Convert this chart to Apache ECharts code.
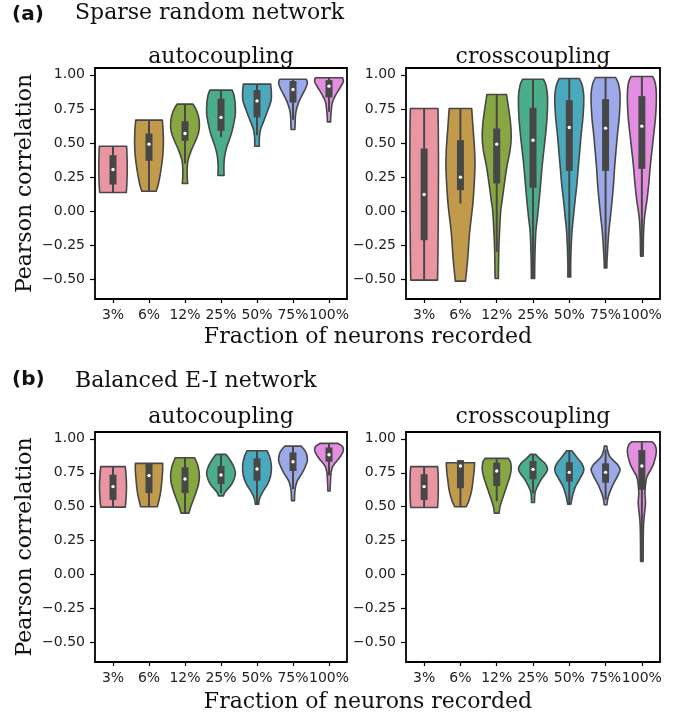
<!DOCTYPE html>
<html><head><meta charset="utf-8">
<script src="https://cdn.jsdelivr.net/npm/echarts@6/dist/echarts.min.js"></script>
<style>html,body{margin:0;padding:0;background:#fff}#c{width:685px;height:719px}</style>
</head><body><div id="c"></div>
<script>
const categories = ['3%','6%','12%','25%','50%','75%','100%'];
const yTicks = [-0.5,-0.25,0,0.25,0.5,0.75,1.0];
const colors = ['#ea96a2','#c29a4b','#87a742','#4aae8b','#4ba9bd','#9caae9','#e38ee0'];

// Violin outlines: [value, half-width as fraction of category band], bottom to top
const sparseAutoProfiles = [
  [[0.137,0.37],[0.2,0.385],[0.3,0.395],[0.4,0.39],[0.477,0.38]],
  [[0.147,0.2],[0.2,0.26],[0.3,0.33],[0.4,0.38],[0.5,0.4],[0.6,0.39],[0.668,0.37]],
  [[0.203,0.075],[0.26,0.06],[0.33,0.065],[0.38,0.09],[0.45,0.18],[0.52,0.3],[0.58,0.38],[0.64,0.4],[0.70,0.37],[0.75,0.3],[0.785,0.22]],
  [[0.262,0.085],[0.33,0.08],[0.40,0.1],[0.47,0.16],[0.53,0.24],[0.58,0.3],[0.65,0.36],[0.72,0.4],[0.80,0.39],[0.85,0.36],[0.888,0.31]],
  [[0.477,0.065],[0.54,0.065],[0.6,0.1],[0.67,0.2],[0.74,0.3],[0.81,0.39],[0.87,0.4],[0.932,0.38]],
  [[0.599,0.05],[0.64,0.06],[0.69,0.065],[0.74,0.09],[0.80,0.16],[0.85,0.25],[0.90,0.35],[0.94,0.4],[0.968,0.37]],
  [[0.655,0.045],[0.70,0.05],[0.74,0.065],[0.78,0.08],[0.81,0.11],[0.85,0.18],[0.88,0.25],[0.92,0.34],[0.95,0.4],[0.978,0.38]]
];
// Inner box: [whisker low, q1, median, q3, whisker high]
const sparseAutoBoxes = [
  [0.137,0.196,0.306,0.411,0.477],
  [0.147,0.37,0.492,0.57,0.668],
  [0.35,0.516,0.57,0.66,0.785],
  [0.543,0.59,0.688,0.826,0.888],
  [0.558,0.688,0.809,0.888,0.932],
  [0.67,0.797,0.892,0.954,0.968],
  [0.73,0.834,0.917,0.961,0.978]
];

const sparseCrossProfiles = [
  [[-0.505,0.37],[-0.3,0.38],[0,0.39],[0.3,0.395],[0.6,0.39],[0.753,0.38]],
  [[-0.512,0.14],[-0.35,0.2],[-0.163,0.25],[0,0.32],[0.08,0.35],[0.2,0.38],[0.33,0.4],[0.45,0.39],[0.6,0.35],[0.753,0.31]],
  [[-0.493,0.045],[-0.31,0.055],[-0.163,0.075],[0,0.11],[0.08,0.15],[0.2,0.21],[0.326,0.28],[0.45,0.37],[0.545,0.4],[0.65,0.38],[0.75,0.33],[0.856,0.27]],
  [[-0.493,0.045],[-0.36,0.05],[-0.163,0.075],[-0.05,0.12],[0.08,0.17],[0.2,0.21],[0.326,0.25],[0.45,0.3],[0.57,0.35],[0.7,0.39],[0.84,0.4],[0.92,0.36],[0.968,0.29]],
  [[-0.481,0.04],[-0.36,0.04],[-0.163,0.07],[-0.05,0.11],[0.08,0.16],[0.2,0.21],[0.326,0.25],[0.45,0.29],[0.57,0.33],[0.7,0.38],[0.84,0.4],[0.92,0.36],[0.973,0.28]],
  [[-0.415,0.035],[-0.36,0.04],[-0.163,0.085],[-0.05,0.13],[0.08,0.18],[0.2,0.22],[0.326,0.25],[0.45,0.29],[0.57,0.33],[0.7,0.38],[0.85,0.4],[0.93,0.36],[0.98,0.28]],
  [[-0.329,0.035],[-0.25,0.04],[-0.163,0.046],[-0.04,0.075],[0.08,0.14],[0.2,0.19],[0.326,0.23],[0.45,0.28],[0.57,0.33],[0.7,0.38],[0.85,0.4],[0.94,0.37],[0.988,0.3]]
];
const sparseCrossBoxes = [
  [-0.505,-0.212,0.123,0.46,0.753],
  [0.057,0.155,0.25,0.521,0.753],
  [-0.297,0.204,0.492,0.607,0.856],
  [-0.493,0.172,0.521,0.758,0.968],
  [-0.481,0.296,0.614,0.814,0.973],
  [-0.415,0.296,0.609,0.822,0.98],
  [-0.329,0.311,0.624,0.844,0.988]
];

const balancedAutoProfiles = [
  [[0.497,0.34],[0.55,0.36],[0.65,0.375],[0.74,0.36],[0.795,0.34]],
  [[0.50,0.23],[0.55,0.28],[0.62,0.33],[0.70,0.36],[0.77,0.38],[0.819,0.38]],
  [[0.453,0.11],[0.5,0.16],[0.55,0.23],[0.6,0.3],[0.66,0.37],[0.72,0.4],[0.79,0.37],[0.861,0.27]],
  [[0.58,0.065],[0.61,0.12],[0.66,0.28],[0.70,0.36],[0.746,0.4],[0.79,0.36],[0.84,0.26],[0.885,0.14]],
  [[0.519,0.05],[0.55,0.06],[0.60,0.14],[0.67,0.3],[0.73,0.38],[0.795,0.4],[0.86,0.36],[0.912,0.28]],
  [[0.545,0.04],[0.62,0.055],[0.685,0.11],[0.746,0.25],[0.80,0.35],[0.844,0.4],[0.90,0.36],[0.946,0.23]],
  [[0.616,0.03],[0.68,0.04],[0.746,0.055],[0.795,0.1],[0.84,0.23],[0.88,0.34],[0.917,0.4],[0.945,0.37],[0.966,0.25]]
];
const balancedAutoBoxes = [
  [0.497,0.55,0.648,0.736,0.795],
  [0.5,0.6,0.729,0.819,0.819],
  [0.453,0.6,0.704,0.79,0.861],
  [0.6,0.668,0.734,0.80,0.885],
  [0.519,0.692,0.778,0.856,0.912],
  [0.63,0.763,0.831,0.9,0.946],
  [0.73,0.831,0.883,0.936,0.966]
];

const balancedCrossProfiles = [
  [[0.494,0.37],[0.56,0.385],[0.65,0.39],[0.74,0.385],[0.795,0.37]],
  [[0.5,0.16],[0.55,0.24],[0.62,0.31],[0.70,0.35],[0.77,0.38],[0.824,0.39]],
  [[0.453,0.065],[0.5,0.09],[0.575,0.18],[0.67,0.3],[0.73,0.37],[0.78,0.4],[0.83,0.38],[0.856,0.32]],
  [[0.531,0.04],[0.6,0.055],[0.648,0.12],[0.71,0.25],[0.75,0.36],[0.78,0.4],[0.82,0.33],[0.85,0.2],[0.885,0.07]],
  [[0.519,0.045],[0.575,0.085],[0.648,0.17],[0.71,0.3],[0.75,0.38],[0.78,0.4],[0.82,0.34],[0.86,0.22],[0.912,0.07]],
  [[0.514,0.035],[0.575,0.075],[0.648,0.18],[0.71,0.3],[0.77,0.4],[0.81,0.33],[0.868,0.12],[0.92,0.05],[0.946,0.035]],
  [[0.098,0.035],[0.23,0.037],[0.355,0.045],[0.43,0.065],[0.526,0.1],[0.6,0.085],[0.66,0.1],[0.72,0.14],[0.77,0.24],[0.82,0.33],[0.905,0.4],[0.95,0.37],[0.978,0.28]]
];
const balancedCrossBoxes = [
  [0.494,0.55,0.648,0.739,0.795],
  [0.5,0.636,0.80,0.843,0.843],
  [0.54,0.653,0.763,0.824,0.856],
  [0.6,0.702,0.775,0.836,0.885],
  [0.519,0.685,0.753,0.827,0.912],
  [0.55,0.677,0.753,0.819,0.92],
  [0.098,0.624,0.80,0.917,0.978]
];

const panels = [
  {profiles: sparseAutoProfiles, boxes: sparseAutoBoxes},
  {profiles: sparseCrossProfiles, boxes: sparseCrossBoxes},
  {profiles: balancedAutoProfiles, boxes: balancedAutoBoxes},
  {profiles: balancedCrossProfiles, boxes: balancedCrossBoxes}
];

const gridPos = [
  {left: 95, top: 68, width: 252, height: 231},
  {left: 406, top: 68, width: 254, height: 231},
  {left: 95, top: 432, width: 252, height: 230},
  {left: 406, top: 432, width: 254, height: 230}
];

const EDGE = '#474747';
const sansFont = 'DejaVu Sans';

// Catmull-Rom spline through outline points (drawing only)
function splinePath(pts, moveFirst) {
  let d = moveFirst ? 'M' + pts[0][0] + ' ' + pts[0][1] : 'L' + pts[0][0] + ' ' + pts[0][1];
  for (let k = 0; k < pts.length - 1; k++) {
    const p0 = pts[Math.max(k - 1, 0)], p1 = pts[k], p2 = pts[k + 1], p3 = pts[Math.min(k + 2, pts.length - 1)];
    const c1x = p1[0] + (p2[0] - p0[0]) / 6, c1y = p1[1] + (p2[1] - p0[1]) / 6;
    const c2x = p2[0] - (p3[0] - p1[0]) / 6, c2y = p2[1] - (p3[1] - p1[1]) / 6;
    d += 'C' + c1x + ' ' + c1y + ' ' + c2x + ' ' + c2y + ' ' + p2[0] + ' ' + p2[1];
  }
  return d;
}

function makeRender(panel) {
  return function (params, api) {
    const i = params.dataIndex;
    const prof = panel.profiles[i];
    const bx = panel.boxes[i];
    const band = api.size([1, 0])[0];
    const cx = api.coord([i, 0])[0];
    const left = prof.map(p => [cx - p[1] * band, api.coord([i, p[0]])[1]]);
    const right = prof.slice().reverse().map(p => [cx + p[1] * band, api.coord([i, p[0]])[1]]);
    const d = splinePath(left, true) + splinePath(right, false) + 'Z';
    const yLo = api.coord([i, bx[0]])[1];
    const yQ1 = api.coord([i, bx[1]])[1];
    const yMed = api.coord([i, bx[2]])[1];
    const yQ3 = api.coord([i, bx[3]])[1];
    const yHi = api.coord([i, bx[4]])[1];
    return {
      type: 'group',
      children: [
        {type: 'path', shape: {pathData: d}, style: {fill: colors[i], stroke: EDGE, lineWidth: 1.6, lineJoin: 'round'}},
        {type: 'line', shape: {x1: cx, y1: yLo, x2: cx, y2: yHi}, style: {stroke: EDGE, lineWidth: 2}},
        {type: 'rect', shape: {x: cx - 3.5, y: yQ3, width: 7, height: yQ1 - yQ3}, style: {fill: EDGE}},
        {type: 'circle', shape: {cx: cx, cy: yMed, r: 1.7}, style: {fill: '#ffffff'}}
      ]
    };
  };
}

const fmt = v => (v < 0 ? '\u2212' : '') + Math.abs(v).toFixed(2);

const option = {
  animation: false,
  backgroundColor: '#ffffff',
  grid: gridPos.map(g => Object.assign({show: true, borderColor: '#000', borderWidth: 1.8, backgroundColor: 'transparent'}, g)),
  xAxis: gridPos.map((g, k) => ({
    type: 'category', gridIndex: k, data: categories, boundaryGap: true, position: 'bottom',
    axisLine: {show: false, onZero: false},
    axisTick: {show: true, alignWithLabel: true, length: 4, lineStyle: {color: '#000', width: 1.2}},
    axisLabel: {color: '#222', fontFamily: sansFont, fontSize: 14, margin: 9, interval: 0},
    splitLine: {show: false}
  })),
  yAxis: gridPos.map((g, k) => ({
    type: 'value', gridIndex: k, min: -0.643, max: 1.05, position: 'left',
    axisLine: {show: false, onZero: false},
    axisTick: {show: true, length: 5, customValues: yTicks, lineStyle: {color: '#000', width: 1.2}},
    axisLabel: {color: '#222', fontFamily: sansFont, fontSize: 14, margin: 10, customValues: yTicks, formatter: fmt},
    splitLine: {show: false}
  })),
  series: panels.map((p, k) => ({
    type: 'custom', xAxisIndex: k, yAxisIndex: k,
    renderItem: makeRender(p),
    data: categories.map((c, i) => [i, p.boxes[i][2]]),
    encode: {x: 0, y: 1},
    clip: false
  })),
  graphic: [
    {type: 'text', left: 12, top: 5, style: {text: '(a)', font: 'bold 20px "DejaVu Sans"', fill: '#111'}},
    {type: 'text', x: 75, y: 13, style: {text: 'Sparse random network', font: '22px "DejaVu Serif"', fill: '#111', textVerticalAlign: 'middle'}},
    {type: 'text', x: 221, y: 57, style: {text: 'autocoupling', font: '22px "DejaVu Serif"', fill: '#111', textAlign: 'center', textVerticalAlign: 'middle'}},
    {type: 'text', x: 533, y: 57, style: {text: 'crosscoupling', font: '22px "DejaVu Serif"', fill: '#111', textAlign: 'center', textVerticalAlign: 'middle'}},
    {type: 'text', x: 25, y: 183.5, rotation: Math.PI / 2, style: {text: 'Pearson correlation', font: '22px "DejaVu Serif"', fill: '#111', textAlign: 'center', textVerticalAlign: 'middle'}},
    {type: 'text', x: 368, y: 337.5, style: {text: 'Fraction of neurons recorded', font: '22px "DejaVu Serif"', fill: '#111', textAlign: 'center', textVerticalAlign: 'middle'}},
    {type: 'text', left: 12, top: 370, style: {text: '(b)', font: 'bold 20px "DejaVu Sans"', fill: '#111'}},
    {type: 'text', x: 75, y: 381.5, style: {text: 'Balanced E-I network', font: '22px "DejaVu Serif"', fill: '#111', textVerticalAlign: 'middle'}},
    {type: 'text', x: 221, y: 417.5, style: {text: 'autocoupling', font: '22px "DejaVu Serif"', fill: '#111', textAlign: 'center', textVerticalAlign: 'middle'}},
    {type: 'text', x: 533, y: 417.5, style: {text: 'crosscoupling', font: '22px "DejaVu Serif"', fill: '#111', textAlign: 'center', textVerticalAlign: 'middle'}},
    {type: 'text', x: 25, y: 547, rotation: Math.PI / 2, style: {text: 'Pearson correlation', font: '22px "DejaVu Serif"', fill: '#111', textAlign: 'center', textVerticalAlign: 'middle'}},
    {type: 'text', x: 368, y: 702.5, style: {text: 'Fraction of neurons recorded', font: '22px "DejaVu Serif"', fill: '#111', textAlign: 'center', textVerticalAlign: 'middle'}}
  ]
};

const chart = echarts.init(document.getElementById('c'), null, {renderer: 'canvas'});
chart.setOption(option);
</script>
</body></html>
